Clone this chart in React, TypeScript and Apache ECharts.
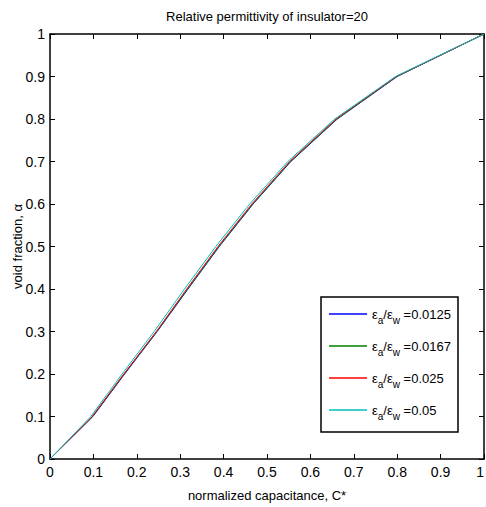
import React, { useEffect, useRef } from 'react';
import * as echarts from 'echarts';

// void fraction (y) values at which each curve is evaluated
const voidFraction = [0, 0.1, 0.2, 0.3, 0.4, 0.5, 0.6, 0.7, 0.8, 0.9, 1];
// normalized capacitance C* for each permittivity ratio
const cStar0125 = [0, 0.099, 0.172, 0.247, 0.318, 0.39, 0.468, 0.555, 0.662, 0.8, 1];
const cStar0167 = [0, 0.098, 0.171, 0.246, 0.317, 0.389, 0.467, 0.554, 0.661, 0.799, 1];
const cStar025 = [0, 0.097, 0.17, 0.245, 0.315, 0.387, 0.465, 0.552, 0.659, 0.798, 1];
const cStar05 = [0, 0.094, 0.166, 0.24, 0.31, 0.382, 0.46, 0.548, 0.656, 0.796, 1];
const ratioLabels = ['0.0125', '0.0167', '0.025', '0.05'];
const seriesValues = [cStar0125, cStar0167, cStar025, cStar05];
const seriesColors = ['#0000ff', '#008000', '#ff0000', '#00bfbf'];

const titleText = 'Relative permittivity of insulator=20';
const xName = 'normalized capacitance, C*';
const yName = 'void fraction, α';

const FONT = '"Liberation Sans", Arial, Helvetica, sans-serif';

export default function App() {
  const ref = useRef<HTMLDivElement>(null);
  useEffect(() => {
    document.body.style.margin = '0';
    if (!ref.current) return;
    const chart = echarts.init(ref.current, null, { renderer: 'svg' });
    const gridLeft = 50, gridTop = 34, gridRight = 2, gridBottom = 48;
    const plotCenter = gridLeft + (486 - gridLeft - gridRight) / 2;
    const axisCommon = {
      type: 'value' as const,
      min: 0,
      max: 1,
      interval: 0.1,
      splitLine: { show: false },
      axisLine: { show: true, onZero: false, lineStyle: { color: '#000', width: 1.5 } },
      axisTick: { show: true, inside: true, length: 5, lineStyle: { color: '#000', width: 1 } },
    };
    chart.setOption({
      animation: false,
      backgroundColor: '#fff',
      textStyle: { fontFamily: FONT },
      grid: {
        left: gridLeft,
        top: gridTop,
        right: gridRight,
        bottom: gridBottom,
        containLabel: false,
        outerBoundsMode: 'none',
      },
      xAxis: [
        {
          ...axisCommon,
          position: 'bottom',
          name: xName,
          nameLocation: 'middle',
          nameGap: 30,
          nameTextStyle: { fontSize: 13, color: '#000', fontFamily: FONT },
          axisLabel: { margin: 6, fontSize: 14, color: '#000', fontFamily: FONT, alignMaxLabel: 'right' },
        },
        {
          ...axisCommon,
          position: 'top',
          axisLabel: { show: false },
        },
      ],
      yAxis: [
        {
          ...axisCommon,
          position: 'left',
          name: yName,
          nameLocation: 'middle',
          nameGap: 26,
          nameMoveOverlap: false,
          nameTextStyle: { fontSize: 13, color: '#000', fontFamily: FONT },
          axisLabel: { margin: 5, fontSize: 14, color: '#000', fontFamily: FONT },
        },
        {
          ...axisCommon,
          position: 'right',
          axisLabel: { show: false },
        },
      ],
      legend: {
        orient: 'vertical',
        left: 329,
        top: 298,
        padding: 0,
        itemGap: 0,
        itemWidth: 38,
        itemHeight: 1.5,
        icon: 'rect',
        z: 10,
        data: ratioLabels,
        formatter: (name: string) => `{e|ε}{s|a}{e|/ε}{s|w}{e| =${name}}`,
        textStyle: {
          color: '#000',
          fontFamily: FONT,
          fontSize: 13,
          lineHeight: 32,
          rich: {
            e: { fontSize: 13, lineHeight: 32, color: '#000', fontFamily: FONT },
            s: { fontSize: 10, lineHeight: 32, color: '#000', fontFamily: FONT, padding: [12, 0, 0, 0] },
          },
        },
      },
      graphic: [
        {
          type: 'text',
          x: plotCenter,
          y: 16,
          style: {
            text: titleText,
            fontSize: 13,
            fill: '#000',
            fontFamily: FONT,
            align: 'center',
            verticalAlign: 'middle',
          },
        },
        {
          type: 'rect',
          z: 5,
          shape: { x: 321, y: 297, width: 137, height: 135 },
          style: { fill: '#fff', stroke: '#000', lineWidth: 1.5 },
        },
      ],
      series: seriesValues.map((vals, i) => ({
        name: ratioLabels[i],
        type: 'line',
        xAxisIndex: 0,
        yAxisIndex: 0,
        symbol: 'none',
        showSymbol: false,
        color: seriesColors[i],
        lineStyle: { width: 1, color: seriesColors[i] },
        data: vals.map((c, j) => [c, voidFraction[j]]),
      })),
    });
    return () => chart.dispose();
  }, []);
  return <div ref={ref} style={{ width: 486, height: 507 }} />;
}
